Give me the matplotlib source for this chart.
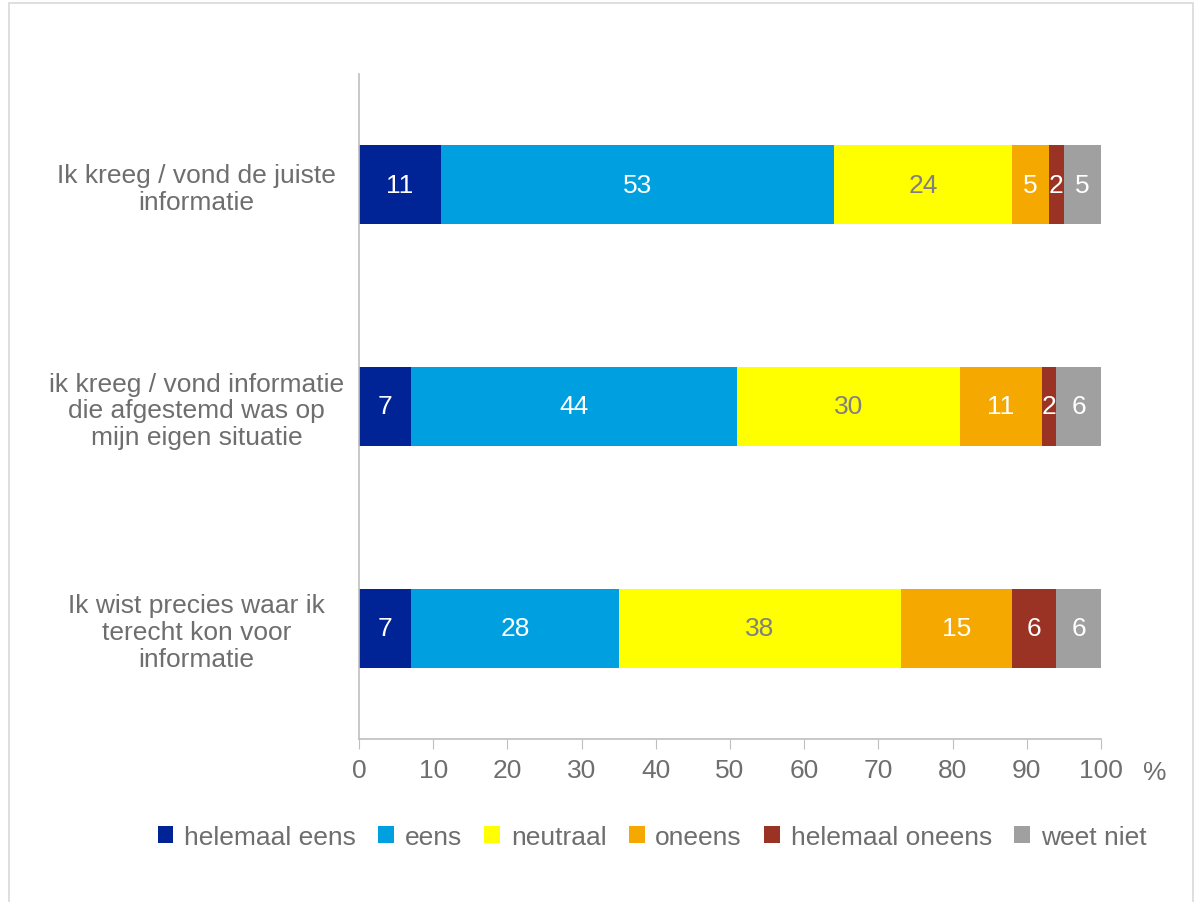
import matplotlib
matplotlib.use("Agg")
import matplotlib.pyplot as plt
import matplotlib.patches as mpatches
import numpy as np

plt.rcParams["font.family"] = ["Liberation Sans", "DejaVu Sans"]

statements = [
    "Ik kreeg / vond de juiste\ninformatie",
    "ik kreeg / vond informatie\ndie afgestemd was op\nmijn eigen situatie",
    "Ik wist precies waar ik\nterecht kon voor\ninformatie",
]
series_names = ["helemaal eens", "eens", "neutraal", "oneens", "helemaal oneens", "weet niet"]
helemaal_eens = [11, 7, 7]
eens = [53, 44, 28]
neutraal = [24, 30, 38]
oneens = [5, 11, 15]
helemaal_oneens = [2, 2, 6]
weet_niet = [5, 6, 6]
x_ticks = [0, 10, 20, 30, 40, 50, 60, 70, 80, 90, 100]

series = [helemaal_eens, eens, neutraal, oneens, helemaal_oneens, weet_niet]
colors = ["#002395", "#00A0E0", "#FFFF00", "#F5A800", "#9B3324", "#A0A0A0"]
text_colors = ["white", "white", "#808080", "white", "white", "white"]
gray = "#6E6E6E"
fs = 19

fig = plt.figure(figsize=(11.98, 9.03), dpi=100)
ax = fig.add_axes([359 / 1198, 1 - 740 / 903, (1101 - 359) / 1198, (740 - 75) / 903])

y = np.arange(len(statements))
left = np.zeros(len(statements))
for vals, name, col, tcol in zip(series, series_names, colors, text_colors):
    vals = np.array(vals, dtype=float)
    ax.barh(y, vals, left=left, height=0.357, color=col, label=name)
    for yi, l, v in zip(y, left, vals):
        ax.text(l + v / 2, yi, f"{int(v)}", ha="center", va="center",
                color=tcol, fontsize=fs)
    left += vals

ax.set_ylim(2.5, -0.5)
ax.set_xlim(0, 100)
ax.set_yticks(y)
ax.set_yticklabels(statements, fontsize=fs, color=gray, ha="center", linespacing=1.15)
ax.tick_params(axis="y", length=0, pad=117)
ax.set_xticks(x_ticks)
ax.set_xticklabels([str(t) for t in x_ticks], fontsize=fs, color=gray)
ax.tick_params(axis="x", length=7, color="#BFBFBF", direction="out", pad=7)
for s in ["top", "right"]:
    ax.spines[s].set_visible(False)
for s in ["left", "bottom"]:
    ax.spines[s].set_color("#BFBFBF")
    ax.spines[s].set_linewidth(1.2)

fig.text(1155 / 1198, 1 - 773 / 903, "%", fontsize=fs, color=gray, ha="center", va="center")

fig.legend(loc="center", bbox_to_anchor=(652 / 1198, 1 - 838 / 903), ncol=6,
           frameon=False, fontsize=fs, handlelength=0.6, handleheight=0.6,
           handletextpad=0.4, columnspacing=0.85, labelcolor=gray)

fig.patches.append(mpatches.Rectangle((9 / 1198, -0.05), (1193 - 9) / 1198, 1.05 - 4 / 903,
                                      transform=fig.transFigure, fill=False,
                                      edgecolor="#D9D9D9", linewidth=1.2))

fig.savefig("out.png", dpi=100)
